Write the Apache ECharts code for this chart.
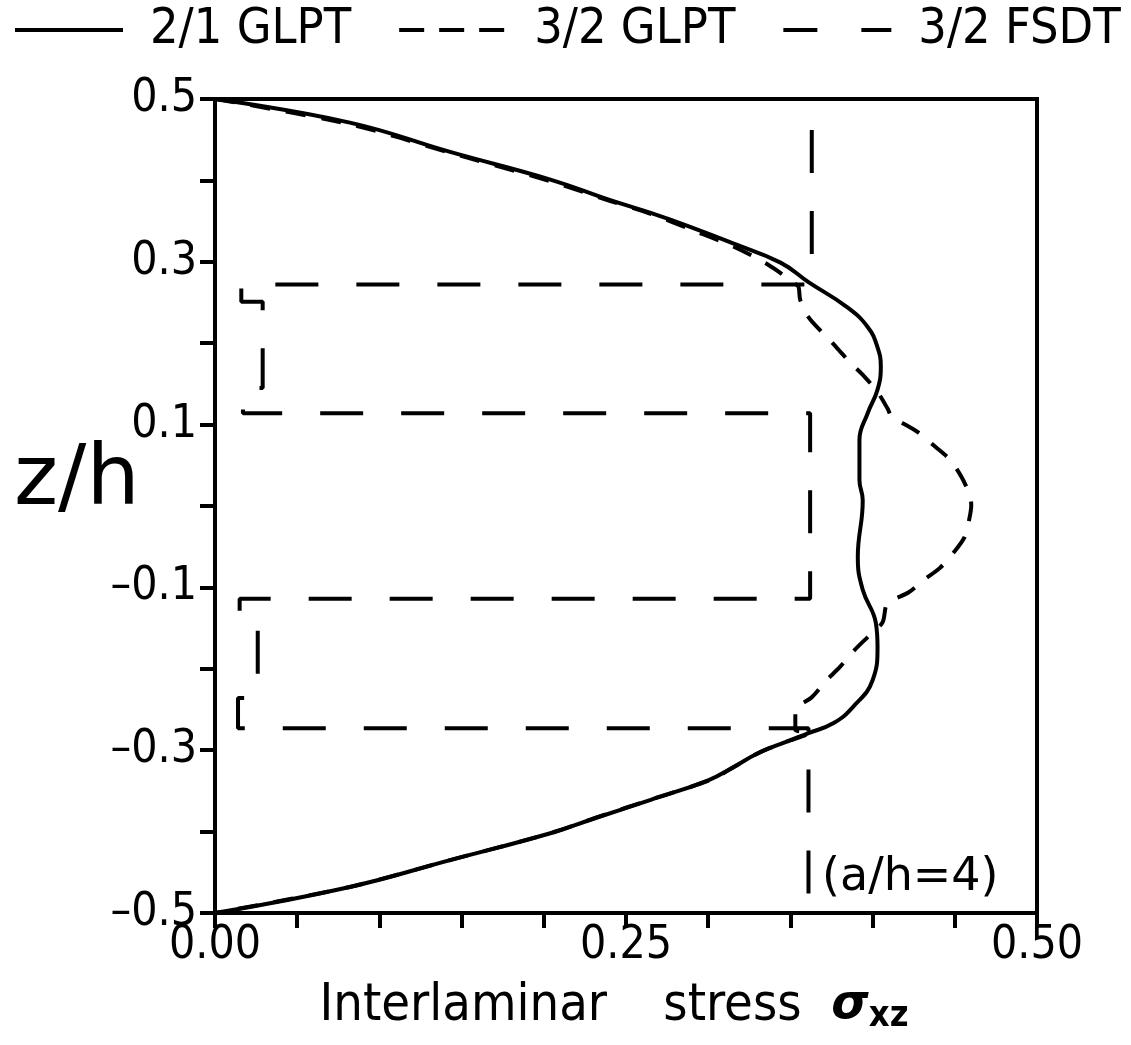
<!DOCTYPE html>
<html>
<head>
<meta charset="utf-8">
<script src="https://cdn.jsdelivr.net/npm/echarts@6/dist/echarts.min.js"></script>
<style>
  html, body { margin: 0; padding: 0; background: #fff; }
  #chart { width: 1131px; height: 1045px; }
</style>
</head>
<body>
<div id="chart"></div>
<script>
// Through-thickness distribution of the interlaminar shear stress (a/h = 4)

// 2/1 GLPT: stress vs. z/h
const solidX = [0.000, 0.082, 0.143, 0.204, 0.240, 0.265, 0.289, 0.316, 0.344, 0.361, 0.384, 0.397, 0.403, 0.405, 0.403, 0.397,
                0.392, 0.392, 0.394, 0.391, 0.394, 0.402, 0.403, 0.400, 0.388, 0.376, 0.361, 0.347, 0.330, 0.316, 0.300, 0.265, 0.232, 0.204,
                0.143, 0.082, 0.000];
const solidZ = [0.500, 0.471, 0.435, 0.401, 0.376, 0.360, 0.343, 0.322, 0.299, 0.275, 0.245, 0.220, 0.195, 0.171, 0.143, 0.114,
                0.081, 0.032, 0.007, -0.063, -0.103, -0.144, -0.173, -0.214, -0.247, -0.267, -0.279, -0.290, -0.304, -0.320, -0.337, -0.361, -0.383, -0.402,
                -0.435, -0.468, -0.500];

// 3/2 GLPT: stress vs. z/h
const glptX = [0.000, 0.082, 0.143, 0.204, 0.240, 0.265, 0.289, 0.315, 0.336, 0.353,
               0.355, 0.356, 0.361, 0.369, 0.378, 0.386, 0.395, 0.403, 0.409, 0.412, 0.418, 0.428, 0.438, 0.447,
               0.454, 0.459, 0.460, 0.459, 0.456, 0.449, 0.441, 0.431, 0.422, 0.409, 0.406, 0.397, 0.389, 0.380,
               0.372, 0.363, 0.353, 0.353,
               0.362, 0.347, 0.331, 0.317, 0.302, 0.266, 0.233, 0.204, 0.143, 0.082, 0.000];
const glptZ = [0.500, 0.469, 0.434, 0.399, 0.375, 0.359, 0.340, 0.319, 0.297, 0.273,
               0.269, 0.253, 0.232, 0.214, 0.195, 0.177, 0.159, 0.140, 0.120, 0.108, 0.102, 0.090, 0.073, 0.057,
               0.036, 0.014, 0.001, -0.014, -0.038, -0.058, -0.076, -0.091, -0.106, -0.120, -0.143, -0.161, -0.177, -0.198,
               -0.214, -0.235, -0.251, -0.275,
               -0.278, -0.290, -0.303, -0.319, -0.336, -0.360, -0.382, -0.402, -0.435, -0.468, -0.500];

// 3/2 FSDT: layerwise stress vs. z/h
const fsdtX = [0.363, 0.363, 0.016, 0.016, 0.029, 0.029, 0.017, 0.017, 0.362,
               0.362, 0.015, 0.015, 0.026, 0.026, 0.014, 0.014, 0.361, 0.361];
const fsdtZ = [0.500, 0.272, 0.272, 0.251, 0.251, 0.145, 0.145, 0.114, 0.114,
               -0.114, -0.114, -0.143, -0.143, -0.236, -0.236, -0.273, -0.273, -0.500];

const seriesNames = ['2/1 GLPT', '3/2 GLPT', '3/2 FSDT'];

// Tick labels
const xTickValues = [0, 0.25, 0.5];
const xTickLabels = ['0.00', '0.25', '0.50'];
const yTickValues = [0.5, 0.3, 0.1, -0.1, -0.3, -0.5];
const yTickLabels = ['0.5', '0.3', '0.1', '\u20130.1', '\u20130.3', '\u20130.5'];

const FONT = "'DejaVu Sans Condensed', 'DejaVu Sans', sans-serif";
const FONT_WIDE = "'DejaVu Sans', sans-serif";
const INK = '#000';

const SHORT_DASH = [20, 16];
const LONG_DASH = [43, 38];

const zip = (xs, zs) => xs.map((x, i) => [x, zs[i]]);
const lookup = (values, labels, v) => {
  const i = values.findIndex(t => Math.abs(t - v) < 1e-6);
  return i >= 0 ? labels[i] : '';
};

const chart = echarts.init(document.getElementById('chart'), null, { renderer: 'canvas' });

chart.setOption({
  animation: false,
  backgroundColor: '#fff',
  legend: {
    left: 8,
    top: 0,
    itemWidth: 108,
    itemHeight: 30,
    itemGap: 46,
    itemStyle: { opacity: 0 },
    textStyle: { fontFamily: FONT, fontSize: 50, color: INK, padding: [0, 0, 0, 22] },
    data: [
      { name: seriesNames[0], lineStyle: { color: INK, width: 4, type: 'solid' } },
      { name: seriesNames[1], lineStyle: { color: INK, width: 4, type: [25, 15] } },
      { name: seriesNames[2], lineStyle: { color: INK, width: 4, type: [34, 44], dashOffset: 0 } }
    ]
  },
  grid: {
    left: 215, top: 99, width: 822, height: 814,
    outerBoundsMode: 'none', containLabel: false,
    show: true, borderColor: INK, borderWidth: 4, backgroundColor: 'transparent'
  },
  xAxis: {
    type: 'value', min: 0, max: 0.5, interval: 0.05,
    axisLine: { onZero: false, lineStyle: { color: INK, width: 4 } },
    axisTick: { length: 15, lineStyle: { color: INK, width: 4 } },
    splitLine: { show: false },
    axisLabel: {
      margin: 10, color: INK, fontFamily: FONT, fontSize: 46,
      formatter: v => lookup(xTickValues, xTickLabels, v)
    },
    name: '{t|Interlaminar   \u2005stress  }{s|\u03c3}{sub|xz}',
    nameLocation: 'middle',
    nameGap: 64,
    nameTextStyle: {
      padding: [0, 24, 0, 0],
      rich: {
        t: { fontFamily: FONT, fontSize: 52, color: INK, lineHeight: 58 },
        s: { fontFamily: FONT_WIDE, fontSize: 48, fontStyle: 'italic', fontWeight: 'bold', color: INK, lineHeight: 58 },
        sub: { fontFamily: FONT, fontSize: 36, fontWeight: 'bold', color: INK, lineHeight: 36, verticalAlign: 'bottom' }
      }
    }
  },
  yAxis: {
    type: 'value', min: -0.5, max: 0.5, interval: 0.1,
    axisLine: { onZero: false, lineStyle: { color: INK, width: 4 } },
    axisTick: { length: 15, lineStyle: { color: INK, width: 4 } },
    splitLine: { show: false },
    axisLabel: {
      margin: 18, color: INK, fontFamily: FONT, fontSize: 46,
      formatter: v => lookup(yTickValues, yTickLabels, v)
    }
  },
  graphic: [
    {
      type: 'text', left: 14, top: 440,
      style: { text: 'z/h', fontFamily: FONT_WIDE, fontSize: 84, fill: INK }
    },
    {
      type: 'text', left: 822, top: 855,
      style: { text: '(a/h=4)', fontFamily: FONT_WIDE, fontSize: 46, fill: INK }
    }
  ],
  series: [
    {
      name: seriesNames[0], type: 'line', data: zip(solidX, solidZ),
      showSymbol: false, symbol: 'none', smooth: 0.45,
      lineStyle: { color: INK, width: 4, type: 'solid' },
      itemStyle: { color: INK }
    },
    {
      name: seriesNames[1], type: 'line', data: zip(glptX, glptZ),
      showSymbol: false, symbol: 'none', smooth: 0.3,
      lineStyle: { color: INK, width: 4, type: SHORT_DASH },
      itemStyle: { color: INK }
    },
    {
      name: seriesNames[2], type: 'line', data: zip(fsdtX, fsdtZ),
      showSymbol: false, symbol: 'none', smooth: false,
      lineStyle: { color: INK, width: 4, type: LONG_DASH, dashOffset: 50 },
      itemStyle: { color: INK }
    }
  ]
});
</script>
</body>
</html>
